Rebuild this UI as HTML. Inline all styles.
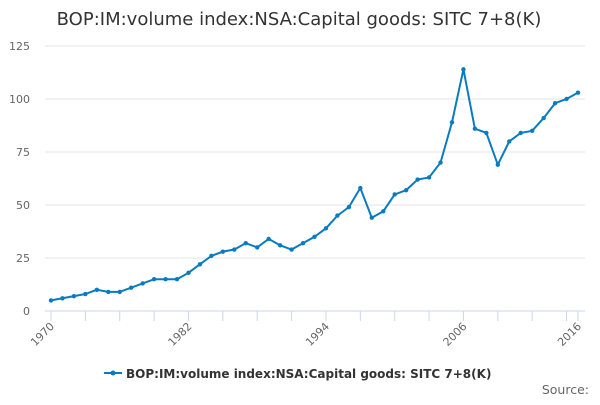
<!DOCTYPE html>
<html><head><meta charset="utf-8"><style>
body{margin:0;background:#fff;font-family:"Liberation Sans","DejaVu Sans",sans-serif}
</style></head><body>
<svg id="c" width="600" height="400" xmlns="http://www.w3.org/2000/svg">
<text x="299" y="25" text-anchor="middle" font-size="18" fill="#333" font-family="DejaVu Sans,sans-serif">BOP:IM:volume index:NSA:Capital goods: SITC 7+8(K)</text>
<g id="grid"></g><g id="xa"></g><g id="ser"></g>
<g>
<line x1="104" y1="373" x2="122" y2="373" stroke="#0a7bc1" stroke-width="2"/><circle cx="113" cy="373" r="2.5" fill="#0a7bc1"/>
<text x="126" y="378" font-size="12" font-weight="bold" fill="#333" font-family="DejaVu Sans,sans-serif">BOP:IM:volume index:NSA:Capital goods: SITC 7+8(K)</text></g>
<text x="589" y="394" text-anchor="end" font-size="12.5" fill="#666" font-family="DejaVu Sans,sans-serif">Source:</text>
</svg>
<script>
const years=[1970,1971,1972,1973,1974,1975,1976,1977,1978,1979,1980,1981,1982,1983,1984,1985,1986,1987,1988,1989,1990,1991,1992,1993,1994,1995,1996,1997,1998,1999,2000,2001,2002,2003,2004,2005,2006,2007,2008,2009,2010,2011,2012,2013,2014,2015,2016];
const values=[5,6,7,8,10,9,9,11,13,15,15,15,18,22,26,28,29,32,30,34,31,29,32,35,39,45,49,58,44,47,55,57,62,63,70,89,114,86,84,69,80,84,85,91,98,100,103];
const yTicks=[0,25,50,75,100,125];
const xLabels=[1970,1982,1994,2006,2016];
const NS="http://www.w3.org/2000/svg";
const X=y=>51+(y-1970)*(578-51)/46, Y=v=>311-v*265/125;
function mk(t,a,p,txt){const e=document.createElementNS(NS,t);for(const k in a)e.setAttribute(k,a[k]);if(txt!=null)e.textContent=txt;p.appendChild(e);return e;}
const g=document.getElementById('grid');
yTicks.forEach(v=>{
 const l=mk('line',{x1:45,x2:585,y1:Y(v),y2:Y(v),stroke:v?'#e6e6e6':'#ccd6eb'},g);
 
 
 const t=mk('text',{x:30,y:Y(v)+4,'text-anchor':'end','font-size':11,fill:'#666','font-family':'DejaVu Sans,sans-serif'},g,v);
 
 
});
const xa=document.getElementById('xa');
for(let y=1970;y<=2016;y+=3){const l=mk('line',{x1:X(y),x2:X(y),y1:311,y2:321,stroke:'#ccd6eb'},xa);
 
 }
mk('line',{x1:X(2016),x2:X(2016),y1:311,y2:321,stroke:'#ccd6eb'},xa);
xLabels.forEach(y=>{const x=X(y),t=mk('text',{x:x+4,y:327,'text-anchor':'end','font-size':11,fill:'#666','font-family':'DejaVu Sans,sans-serif',transform:`rotate(-45 ${x+4} 327)`},xa,y);
 
 });
const s=document.getElementById('ser');
const p=mk('polyline',{points:years.map((y,i)=>X(y)+','+Y(values[i])).join(' '),fill:'none',stroke:'#0a7bc1','stroke-width':2},s);


years.forEach((y,i)=>{const c=mk('circle',{cx:X(y),cy:Y(values[i]),r:2.2,fill:'#0a7bc1'},s);
 
 });
</script>
</body></html>
